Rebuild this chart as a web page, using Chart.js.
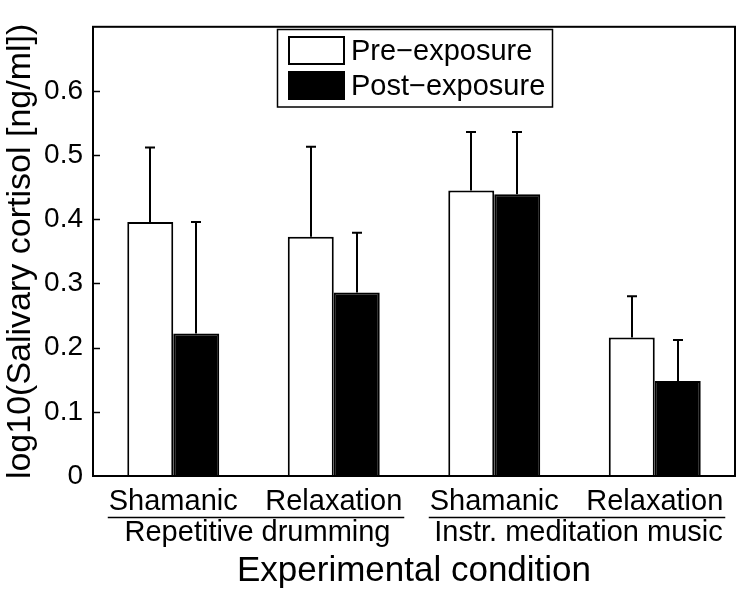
<!DOCTYPE html>
<html><head><meta charset="utf-8">
<script src="https://cdn.jsdelivr.net/npm/chart.js@4/dist/chart.umd.min.js"></script>
<style>html,body{margin:0;padding:0;background:#fff;}#wrap{width:740px;height:598px;}</style>
</head><body><div id="wrap"><canvas id="c" width="740" height="598"></canvas></div>
<script>
const categories = ['Shamanic', 'Relaxation', 'Shamanic', 'Relaxation'];
const groupLabels = ['Repetitive drumming', 'Instr. meditation music'];
const groupMembers = [[0, 1], [2, 3]];
const seriesNames = ['Pre\u2212exposure', 'Post\u2212exposure'];
const preMeans = [0.396, 0.373, 0.445, 0.216];
const preErrors = [0.116, 0.140, 0.091, 0.064];
const postMeans = [0.222, 0.286, 0.439, 0.148];
const postErrors = [0.174, 0.093, 0.097, 0.064];
const yTicks = [0, 0.1, 0.2, 0.3, 0.4, 0.5, 0.6];
const yMax = 0.7;

const FONT = "'Liberation Sans', Arial, Helvetica, sans-serif";

const decorPlugin = {
  id: 'decor',
  afterDatasetsDraw(chart) {
    const ctx = chart.ctx, y = chart.scales.y;
    ctx.save();
    ctx.strokeStyle = '#000';
    ctx.lineWidth = 2;
    chart.data.datasets.forEach((ds, di) => {
      const meta = chart.getDatasetMeta(di);
      meta.data.forEach((bar, i) => {
        const top = y.getPixelForValue(ds.data[i] + ds.errors[i]);
        const x = Math.round(bar.x);
        ctx.beginPath();
        ctx.moveTo(x, bar.y);
        ctx.lineTo(x, top);
        ctx.moveTo(x - 5, top);
        ctx.lineTo(x + 5, top);
        ctx.stroke();
      });
    });
    ctx.restore();
  },
  afterDraw(chart) {
    const ctx = chart.ctx, a = chart.chartArea, x = chart.scales.x, y = chart.scales.y;
    ctx.save();
    ctx.strokeStyle = '#000';
    ctx.lineWidth = 2;
    ctx.strokeRect(a.left, a.top, a.right - a.left, a.bottom - a.top);
    ctx.lineWidth = 1.5;
    yTicks.forEach(v => {
      if (v <= 0) return;
      const py = Math.round(y.getPixelForValue(v)) + 0.5;
      ctx.beginPath();
      ctx.moveTo(a.left, py);
      ctx.lineTo(a.left + 7, py);
      ctx.stroke();
    });
    ctx.font = '29px ' + FONT;
    ctx.fillStyle = '#000';
    groupMembers.forEach((mem, gi) => {
      const first = mem[0], last = mem[mem.length - 1];
      const x0 = x.getPixelForValue(first) - ctx.measureText(categories[first]).width / 2;
      const x1 = x.getPixelForValue(last) + ctx.measureText(categories[last]).width / 2;
      ctx.lineWidth = 1.5;
      ctx.beginPath();
      ctx.moveTo(x0 - 1, a.bottom + 41.5);
      ctx.lineTo(x1 + 2, a.bottom + 41.5);
      ctx.stroke();
      ctx.textAlign = 'center';
      ctx.textBaseline = 'alphabetic';
      ctx.fillText(groupLabels[gi], (x0 + x1) / 2 + 2, a.bottom + 65);
    });
    const lx = 277.5, ly = 29.5, lw = 275, lh = 77.5;
    ctx.fillStyle = '#fff';
    ctx.fillRect(lx, ly, lw, lh);
    ctx.lineWidth = 1.5;
    ctx.strokeStyle = '#000';
    ctx.strokeRect(lx, ly, lw, lh);
    chart.data.datasets.forEach((ds, di) => {
      const sy = 37 + di * 35;
      ctx.fillStyle = ds.backgroundColor;
      ctx.fillRect(289, sy, 55, 27);
      ctx.lineWidth = 2;
      ctx.strokeRect(289, sy, 55, 27);
      ctx.fillStyle = '#000';
      ctx.textAlign = 'left';
      ctx.textBaseline = 'alphabetic';
      ctx.font = '29px ' + FONT;
      ctx.fillText(ds.label, 351, sy + 23);
    });
    ctx.restore();
  }
};

new Chart(document.getElementById('c'), {
  type: 'bar',
  data: {
    labels: categories,
    datasets: [
      { label: seriesNames[0], data: preMeans, errors: preErrors, backgroundColor: '#ffffff', borderColor: '#000', borderWidth: 2 },
      { label: seriesNames[1], data: postMeans, errors: postErrors, backgroundColor: '#000000', borderColor: '#000', borderWidth: 2 }
    ]
  },
  options: {
    responsive: false,
    animation: false,
    devicePixelRatio: 1,
    layout: { padding: { top: 21, right: 5, left: 0, bottom: 0 } },
    datasets: { bar: { barPercentage: 1, categoryPercentage: 0.573 } },
    plugins: { legend: { display: false }, tooltip: { enabled: false } },
    scales: {
      x: {
        grid: { display: false, drawTicks: false },
        border: { display: false },
        ticks: { color: '#000', font: { family: FONT, size: 29 }, padding: 9, maxRotation: 0, autoSkip: false },
        title: { display: true, text: 'Experimental condition', color: '#000', font: { family: FONT, size: 35 }, padding: { top: 0, bottom: 6 } },
        afterFit(s) { s.height = 122; }
      },
      y: {
        min: 0, max: yMax,
        grid: { display: false, drawTicks: false },
        border: { display: false },
        afterBuildTicks(s) { s.ticks = yTicks.map(v => ({ value: v })); },
        ticks: { color: '#000', font: { family: FONT, size: 28 }, padding: 10,
          callback: v => (v === 0 ? '0' : v.toFixed(1)) },
        title: { display: true, text: 'log10(Salivary cortisol [ng/ml])', color: '#000', font: { family: FONT, size: 34 }, padding: { top: 0, bottom: 0 } },
        afterFit(s) { s.width = 93; }
      }
    }
  },
  plugins: [decorPlugin]
});
</script></body></html>
